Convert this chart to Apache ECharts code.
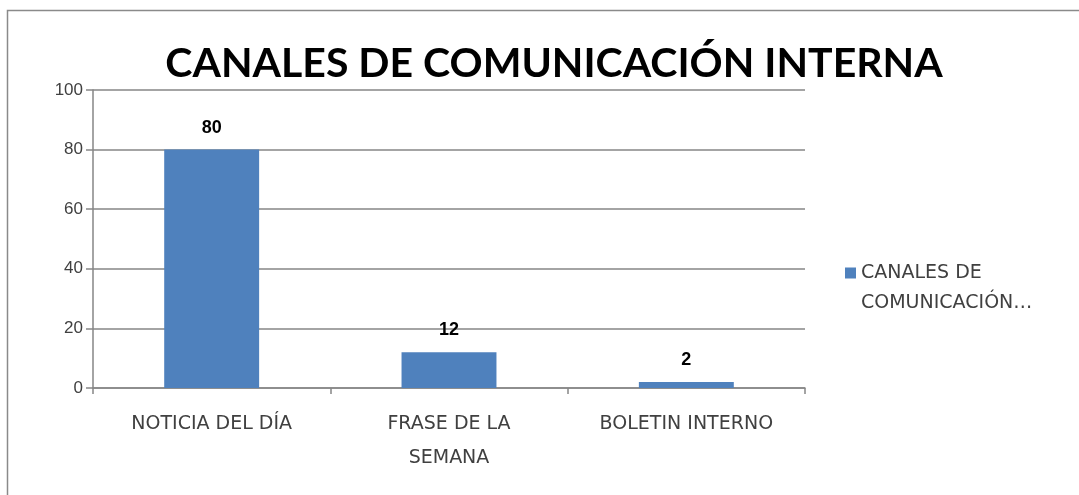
<!DOCTYPE html>
<html>
<head>
<meta charset="utf-8">
<script src="https://cdn.jsdelivr.net/npm/echarts@6/dist/echarts.min.js"></script>
<style>
html,body{margin:0;padding:0;background:#fff;}
#c{width:1079px;height:495px;}
</style>
</head>
<body>
<div id="c"></div>
<script>
const titleText = 'CANALES DE COMUNICACIÓN INTERNA';
const seriesName = 'CANALES DE COMUNICACIÓN INTERNA';
const legendLines = ['CANALES DE', 'COMUNICACIÓN…'];
const categories = ['NOTICIA DEL DÍA', 'FRASE DE LA\nSEMANA', 'BOLETIN INTERNO'];
const values = [80, 12, 2];
const yTicks = [0, 20, 40, 60, 80, 100];

const titleFont = 'Lato, "Open Sans", sans-serif';
const font = '"DejaVu Sans", sans-serif';
const numFont = '"Liberation Sans", Arial, sans-serif';
const chart = echarts.init(document.getElementById('c'), null, {renderer: 'canvas'});
chart.setOption({
  animation: false,
  backgroundColor: '#fff',
  graphic: [{
    type: 'rect', silent: true, z: -1,
    shape: {x: 7.5, y: 10.5, width: 1200, height: 600},
    style: {fill: 'none', stroke: '#8a8a8a', lineWidth: 1.5}
  }],
  title: {
    text: titleText, left: 549, top: 38, textAlign: 'center',
    textStyle: {fontFamily: titleFont, fontWeight: 'bold', fontSize: 41, color: '#000'}
  },
  legend: {
    left: 840, top: 223, orient: 'vertical',
    itemWidth: 11, itemHeight: 11, itemGap: 6,
    icon: 'rect',
    formatter: function(){ return '\n' + legendLines.join('\n'); },
    textStyle: {fontFamily: font, fontSize: 19, color: '#404040', lineHeight: 30},
    data: [seriesName]
  },
  grid: {left: 93, right: 274, top: 90, bottom: 107, containLabel: false},
  xAxis: {
    type: 'category', data: categories,
    axisLine: {lineStyle: {color: '#868686', width: 1.5}},
    axisTick: {show: true, length: 6, lineStyle: {color: '#868686', width: 1.5}},
    axisLabel: {fontFamily: font, fontSize: 19, color: '#404040', margin: 19, lineHeight: 34, interval: 0}
  },
  yAxis: {
    type: 'value', min: 0, max: 100, interval: 20,
    axisLine: {show: true, lineStyle: {color: '#868686', width: 1.5}},
    axisTick: {show: true, length: 7, lineStyle: {color: '#868686', width: 1.5}},
    splitLine: {lineStyle: {color: '#868686', width: 1.5}},
    axisLabel: {fontFamily: numFont, fontSize: 17, color: '#404040', margin: 10,
      formatter: function(v){ return yTicks.indexOf(v) >= 0 ? String(v) : ''; }}
  },
  series: [{
    name: seriesName, type: 'bar', data: values,
    barWidth: '40%',
    itemStyle: {color: '#4f81bd'},
    label: {show: true, position: 'top', distance: 13, fontFamily: numFont, fontWeight: 'bold', fontSize: 18, color: '#000'}
  }]
});
</script>
</body>
</html>
